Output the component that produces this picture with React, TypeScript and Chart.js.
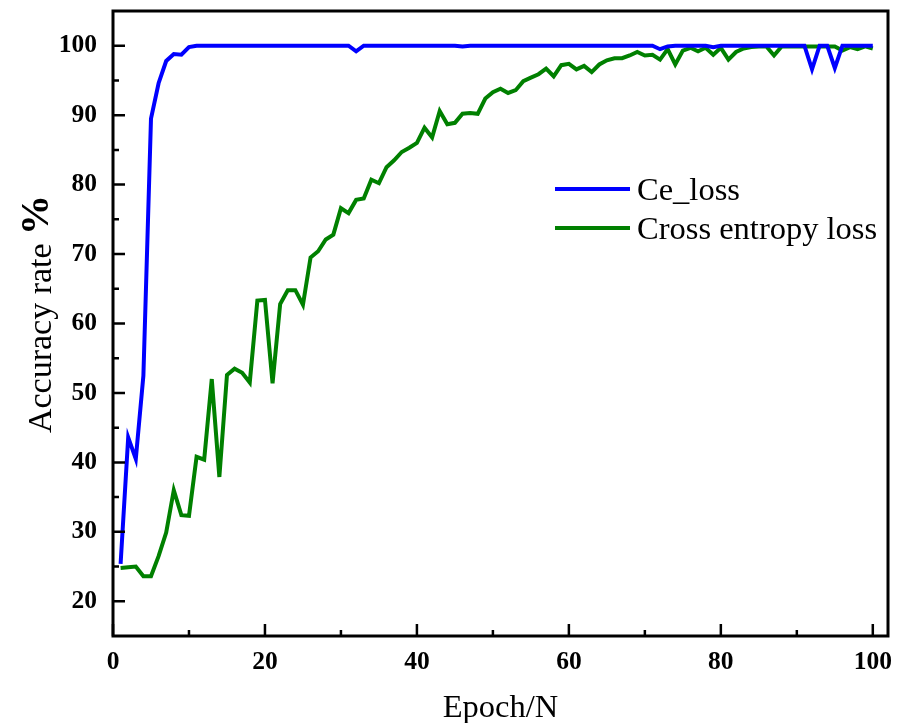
import React, { useEffect, useRef } from 'react';
import { Chart, registerables } from 'chart.js';

Chart.register(...registerables);

const epochs = [
  1, 2, 3, 4, 5, 6, 7, 8, 9, 10,
  11, 12, 13, 14, 15, 16, 17, 18, 19, 20,
  21, 22, 23, 24, 25, 26, 27, 28, 29, 30,
  31, 32, 33, 34, 35, 36, 37, 38, 39, 40,
  41, 42, 43, 44, 45, 46, 47, 48, 49, 50,
  51, 52, 53, 54, 55, 56, 57, 58, 59, 60,
  61, 62, 63, 64, 65, 66, 67, 68, 69, 70,
  71, 72, 73, 74, 75, 76, 77, 78, 79, 80,
  81, 82, 83, 84, 85, 86, 87, 88, 89, 90,
  91, 92, 93, 94, 95, 96, 97, 98, 99, 100,
];

const ceLoss = [
  25.4, 43.6, 40.5, 52.5, 89.5, 94.6, 97.8, 98.8, 98.7, 99.8,
  100, 100, 100, 100, 100, 100, 100, 100, 100, 100,
  100, 100, 100, 100, 100, 100, 100, 100, 100, 100,
  100, 99.2, 100, 100, 100, 100, 100, 100, 100, 100,
  100, 100, 100, 100, 100, 99.9, 100, 100, 100, 100,
  100, 100, 100, 100, 100, 100, 100, 100, 100, 100,
  100, 100, 100, 100, 100, 100, 100, 100, 100, 100,
  100, 99.5, 99.9, 100, 100, 100, 100, 100, 99.8, 100,
  100, 100, 100, 100, 100, 100, 100, 100, 100, 100,
  100, 96.6, 100, 100, 96.8, 100, 100, 100, 100, 100,
];

const crossEntropy = [
  24.8, 24.9, 25.0, 23.6, 23.6, 26.5, 29.9, 36.0, 32.4, 32.3,
  40.8, 40.4, 52.0, 37.9, 52.6, 53.5, 52.9, 51.5, 63.3, 63.4,
  51.4, 62.8, 64.8, 64.8, 62.7, 69.5, 70.4, 72.1, 72.8, 76.6,
  75.9, 77.8, 78.0, 80.7, 80.2, 82.5, 83.5, 84.7, 85.3, 86.0,
  88.2, 86.8, 90.6, 88.7, 88.9, 90.2, 90.3, 90.2, 92.4, 93.3,
  93.8, 93.2, 93.6, 94.9, 95.4, 95.9, 96.7, 95.6, 97.2, 97.4,
  96.6, 97.1, 96.2, 97.3, 97.9, 98.2, 98.2, 98.6, 99.1, 98.6,
  98.7, 98.0, 99.5, 97.3, 99.3, 99.7, 99.2, 99.7, 98.7, 99.7,
  98.0, 99.1, 99.6, 99.8, 99.9, 99.9, 98.6, 99.9, 99.9, 99.9,
  99.9, 99.9, 99.9, 99.9, 99.9, 99.3, 99.8, 99.5, 99.9, 99.6,
];

const seriesNames = ['Ce_loss', 'Cross entropy loss'];
const seriesColors = ['#0000ff', '#008000'];
const xTickValues = [0, 20, 40, 60, 80, 100];
const xMinorTickValues = [10, 30, 50, 70, 90];
const yTickValues = [20, 30, 40, 50, 60, 70, 80, 90, 100];
const yMinorTickValues = [25, 35, 45, 55, 65, 75, 85, 95];
const xTitle = 'Epoch/N';
const yTitleMain = 'Accuracy rate ';
const yTitleUnit = '%';

const SERIF = '"Liberation Serif", "Times New Roman", serif';

const framePlugin = {
  id: 'originFrame',
  afterDraw(chart: any) {
    const { ctx, chartArea } = chart;
    const { left, right, top, bottom } = chartArea;
    const xs = chart.scales.x;
    const ys = chart.scales.y;
    ctx.save();
    ctx.strokeStyle = '#000';
    ctx.lineWidth = 3;
    ctx.strokeRect(left, top, right - left, bottom - top);

    ctx.lineWidth = 2.5;
    ctx.beginPath();
    for (const v of yTickValues) {
      const p = ys.getPixelForValue(v);
      ctx.moveTo(left, p);
      ctx.lineTo(left + 12, p);
    }
    for (const v of yMinorTickValues) {
      const p = ys.getPixelForValue(v);
      ctx.moveTo(left, p);
      ctx.lineTo(left + 6, p);
    }
    for (const v of xTickValues) {
      const p = xs.getPixelForValue(v);
      ctx.moveTo(p, bottom);
      ctx.lineTo(p, bottom - 12);
    }
    for (const v of xMinorTickValues) {
      const p = xs.getPixelForValue(v);
      ctx.moveTo(p, bottom);
      ctx.lineTo(p, bottom - 6);
    }
    ctx.stroke();

    // x title
    ctx.fillStyle = '#000';
    ctx.font = `32.5px ${SERIF}`;
    ctx.textAlign = 'center';
    ctx.textBaseline = 'alphabetic';
    ctx.fillText(xTitle, (left + right) / 2, 717);

    // y title
    ctx.save();
    ctx.translate(51, 314);
    ctx.rotate(-Math.PI / 2);
    ctx.font = `34px ${SERIF}`;
    const w1 = ctx.measureText(yTitleMain).width;
    ctx.font = `bold 40px ${SERIF}`;
    const w2 = ctx.measureText(yTitleUnit).width;
    const start = -(w1 + w2) / 2;
    ctx.textAlign = 'left';
    ctx.font = `34px ${SERIF}`;
    ctx.fillText(yTitleMain, start, 0);
    ctx.font = `bold 40px ${SERIF}`;
    ctx.fillText(yTitleUnit, start + w1, -3);
    ctx.restore();

    // legend
    const legendX0 = left + 442;
    const legendY0 = top + 178;
    const gap = 39;
    ctx.font = `32.5px ${SERIF}`;
    ctx.textAlign = 'left';
    seriesNames.forEach((name, i) => {
      const y = legendY0 + i * gap;
      ctx.strokeStyle = seriesColors[i];
      ctx.lineWidth = 4;
      ctx.beginPath();
      ctx.moveTo(legendX0, y);
      ctx.lineTo(legendX0 + 75, y);
      ctx.stroke();
      ctx.fillStyle = '#000';
      ctx.fillText(name, legendX0 + 82, y + 11);
    });
    ctx.restore();
  },
};

export default function App() {
  const ref = useRef<HTMLCanvasElement>(null);
  useEffect(() => {
    const canvas = ref.current;
    if (!canvas) return;
    const tickFont = { family: SERIF, weight: 'bold' as const, size: 25.5 };
    const chart = new Chart(canvas, {
      type: 'line',
      data: {
        datasets: [
          {
            label: seriesNames[0],
            data: epochs.map((e, i) => ({ x: e, y: ceLoss[i] })),
            borderColor: seriesColors[0],
            backgroundColor: seriesColors[0],
            borderWidth: 4,
            pointRadius: 0,
            tension: 0,
            fill: false,
          },
          {
            label: seriesNames[1],
            data: epochs.map((e, i) => ({ x: e, y: crossEntropy[i] })),
            borderColor: seriesColors[1],
            backgroundColor: seriesColors[1],
            borderWidth: 4,
            pointRadius: 0,
            tension: 0,
            fill: false,
          },
        ],
      },
      options: {
        responsive: false,
        animation: false,
        layout: { padding: { left: 0, right: 9, top: 11, bottom: 0 } },
        plugins: { legend: { display: false }, tooltip: { enabled: false } },
        scales: {
          x: {
            type: 'linear',
            min: 0,
            max: 102,
            afterBuildTicks: (s: any) => {
              s.ticks = xTickValues.map((v) => ({ value: v }));
            },
            afterFit: (s: any) => {
              s.height = 87;
              s.paddingLeft = 0;
              s.paddingRight = 0;
              s.paddingTop = 0;
              s.paddingBottom = 0;
            },
            grid: { display: false, drawTicks: false },
            border: { display: false },
            ticks: {
              font: tickFont,
              color: '#000',
              padding: 11,
              maxRotation: 0,
              autoSkip: false,
            },
          },
          y: {
            type: 'linear',
            min: 15,
            max: 105,
            afterBuildTicks: (s: any) => {
              s.ticks = yTickValues.map((v) => ({ value: v }));
            },
            afterFit: (s: any) => {
              s.width = 113;
              s.paddingLeft = 0;
              s.paddingRight = 0;
              s.paddingTop = 0;
              s.paddingBottom = 0;
            },
            grid: { display: false, drawTicks: false },
            border: { display: false },
            ticks: {
              font: tickFont,
              color: '#000',
              padding: 16,
              autoSkip: false,
            },
          },
        },
      },
      plugins: [framePlugin],
    });
    return () => chart.destroy();
  }, []);

  return (
    <div style={{ position: 'absolute', left: 0, top: 0, width: 897, height: 723, background: '#fff' }}>
      <canvas ref={ref} width={897} height={723} style={{ display: 'block' }} />
    </div>
  );
}
